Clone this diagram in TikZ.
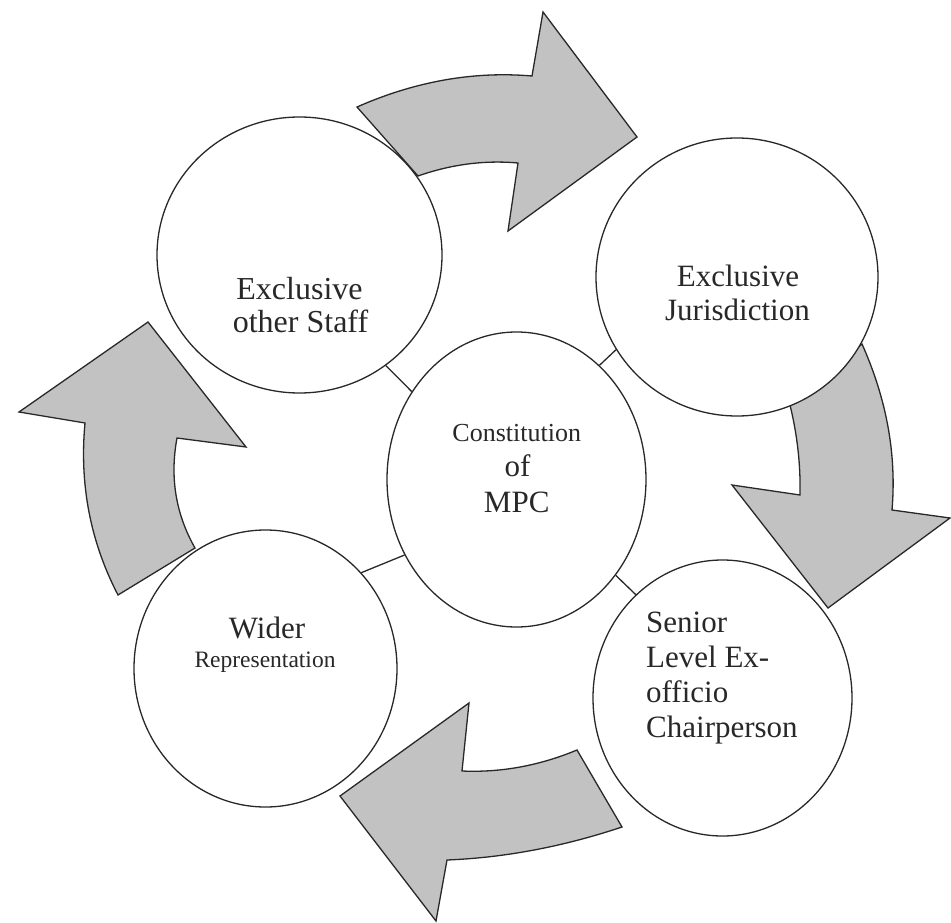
\documentclass[tikz,border=0pt]{standalone}
\usepackage{fontspec}
\setmainfont{Liberation Serif}
\usetikzlibrary{shapes.geometric}
\definecolor{arrowgray}{RGB}{194,194,194}
\definecolor{inkc}{RGB}{40,40,40}
\newcommand\myfsA{\fontsize{32}{35}\selectfont}
\newcommand\myfsB{\fontsize{31}{35}\selectfont}
\newcommand\myfsC{\fontsize{26}{30}\selectfont}
\newcommand\myfsD{\fontsize{23.5}{27}\selectfont}
\begin{document}
\begin{tikzpicture}[x=1pt,y=-1pt,
  bubble/.style={draw=inkc, line width=1.3pt, fill=white, ellipse, inner sep=0pt},
  flow/.style={draw=inkc, line width=1.3pt, fill=arrowgray, line join=miter},
  tie/.style={draw=inkc, line width=1.3pt},
  lbl/.style={anchor=base, inner sep=0pt, text=inkc},
  lblw/.style={anchor=base west, inner sep=0pt, text=inkc}]
\useasboundingbox (0,0) rectangle (951,923);
\fill[white] (0,0) rectangle (951,923);
% curved block arrows
\path[flow] (357,107) .. controls (415.3,81.3) and (473.7,71) .. (532,76) -- (543,12) -- (637,137) -- (508,231) -- (518,163) .. controls (484.7,160) and (451.3,164.3) .. (418,176) -- cycle;
\path[flow] (862,344) .. controls (886.7,399.3) and (896.7,454.7) .. (892,510) -- (950,518) -- (828,608) -- (732,485) -- (800,495) .. controls (800.7,465) and (797.3,435) .. (790,405) -- cycle;
\path[flow] (622,827) .. controls (563,846.7) and (504.7,857.7) .. (447,860) -- (436,921) -- (340,796) -- (469,703) -- (462,771) .. controls (501,772.7) and (539.3,765.7) .. (577,750) -- cycle;
\path[flow] (118,595) .. controls (90.3,541.7) and (79.3,484.3) .. (85,423) -- (19,412) -- (148,322) -- (246,447) -- (177,438) .. controls (169.7,477.3) and (175.7,514) .. (195,548) -- cycle;
% circles
\node[bubble, minimum width=285pt, minimum height=276pt] (tl) at (299.5,255) {};
\node[bubble, minimum width=282pt, minimum height=278pt] (tr) at (737,277) {};
\node[bubble, minimum width=259pt, minimum height=276pt] (br) at (722.5,698) {};
\node[bubble, minimum width=263pt, minimum height=277pt] (bl) at (265.5,668.5) {};
\node[bubble, minimum width=259pt, minimum height=295pt] (c) at (516.5,479.5) {};
% connectors
\draw[tie] (c.140) -- (tl.308);
\draw[tie] (c.54) -- (tr.211);
\draw[tie] (c.214) -- (bl.45);
\draw[tie] (c.316) -- (br.130);
% labels
\node[lbl, font=\myfsA] (tla) at (299.5,299) {Exclusive};
\node[lbl, font=\myfsA] (tlb) at (300.5,332) {other Staff};
\node[lbl, font=\myfsB] (tra) at (738,286) {Exclusive};
\node[lbl, font=\myfsB] (trb) at (737.5,320) {Jurisdiction};
\node[lblw, font=\myfsB] (bra) at (646,632) {Senior};
\node[lblw, font=\myfsB] (brb) at (646,667) {Level Ex-};
\node[lblw, font=\myfsB] (brc) at (646,702) {officio};
\node[lblw, font=\myfsB] (brd) at (646,737) {Chairperson};
\node[lbl, font=\myfsB] (bla) at (267,638) {Wider};
\node[lbl, font=\myfsD] (blb) at (265,667) {Representation};
\node[lbl, font=\myfsC] (ca) at (516.7,441.7) {Constitution};
\node[lbl, font=\myfsB] (cb) at (517.5,476) {of};
\node[lbl, font=\myfsB] (cc) at (516.7,512) {MPC};
\end{tikzpicture}
\end{document}
